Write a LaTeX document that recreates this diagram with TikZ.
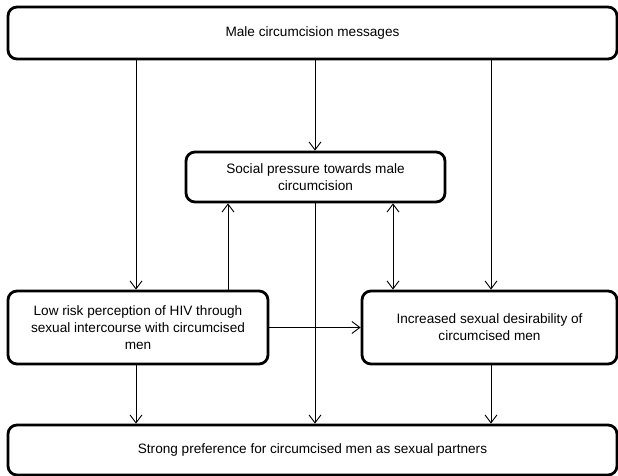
\documentclass[tikz,border=0pt]{standalone}
\usepackage{fontspec}
\setmainfont{Liberation Sans}
\usetikzlibrary{arrows.meta,calc}
\begin{document}
\begin{tikzpicture}[x=1pt,y=-1pt,
  box/.style={draw=black,line width=2.8pt,rounded corners=9pt,align=center,
    inner sep=0pt,font=\fontsize{13.6}{17}\selectfont},
  arr/.style={line width=0.9pt,-{Straight Barb[length=8pt,width=12pt,line width=0.9pt]}},
  darr/.style={line width=0.9pt,{Straight Barb[length=8pt,width=12pt,line width=0.9pt]}-{Straight Barb[length=8pt,width=12pt,line width=0.9pt]}},
  plain/.style={line width=0.9pt}]
\useasboundingbox (0,0) rectangle (618,476);
\node[box,minimum width=609pt,minimum height=52pt] (top) at (312.5,33) {Male circumcision messages};
\node[box,minimum width=259pt,minimum height=50pt] (soc) at (315.5,177) {Social pressure towards male\\circumcision};
\node[box,minimum width=260pt,minimum height=73pt] (low) at (138,327.5) {Low risk perception of HIV through\\sexual intercourse with circumcised\\men};
\node[box,minimum width=255pt,minimum height=73pt] (inc) at (489.5,327.5) {Increased sexual desirability of\\circumcised men};
\node[box,minimum width=609pt,minimum height=50pt] (bot) at (312.5,450) {Strong preference for circumcised men as sexual partners};
\coordinate (xa) at (136,0);
\coordinate (xb) at (315,0);
\coordinate (xc) at (491,0);
\coordinate (xd) at (228,0);
\coordinate (xe) at (393,0);
\draw[arr] (top.south -| xa) -- (low.north -| xa);
\draw[arr] (top.south -| xb) -- (soc.north -| xb);
\draw[arr] (top.south -| xc) -- (inc.north -| xc);
\draw[arr] (low.north -| xd) -- (soc.south -| xd);
\draw[arr] (soc.south -| xb) -- (bot.north -| xb);
\draw[darr] (soc.south -| xe) -- (inc.north -| xe);
\draw[arr] (low.east) -- (inc.west);
\draw[arr] (low.south -| xa) -- (bot.north -| xa);
\draw[arr] (inc.south -| xc) -- (bot.north -| xc);
\end{tikzpicture}
\end{document}
